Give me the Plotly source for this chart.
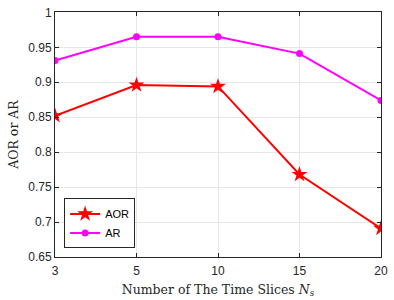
import plotly.graph_objects as go

categories = ["3", "5", "10", "15", "20"]
aor = [0.852, 0.896, 0.894, 0.768, 0.691]
ar = [0.931, 0.965, 0.965, 0.941, 0.874]
y_ticks = [0.65, 0.7, 0.75, 0.8, 0.85, 0.9, 0.95, 1.0]
y_tick_labels = ["0.65", "0.7", "0.75", "0.8", "0.85", "0.9", "0.95", "1"]

fig = go.Figure()
fig.add_trace(go.Scatter(x=categories, y=aor, name="AOR", mode="lines+markers",
                         line=dict(color="#ff0000", width=2),
                         marker=dict(symbol="star", size=12, color="#ff0000")))
fig.add_trace(go.Scatter(x=categories, y=ar, name="AR", mode="lines+markers",
                         line=dict(color="#ff00ff", width=2),
                         marker=dict(symbol="circle", size=7, color="#ff00ff")))

axis_common = dict(showline=True, linecolor="#262626", linewidth=1, mirror="ticks",
                   ticks="inside", ticklen=4, tickcolor="#262626",
                   showgrid=True, gridcolor="#e6e6e6", gridwidth=1,
                   zeroline=False,
                   tickfont=dict(family="Liberation Sans, Arial", size=12, color="#262626"))

fig.update_layout(
    width=394, height=300,
    margin=dict(l=55, r=8, t=6, b=42),
    plot_bgcolor="white", paper_bgcolor="white",
    xaxis=dict(type="category", range=[0, 4], ticklabelstandoff=3,
               title=dict(text="Number of The Time Slices <i>N</i><sub><i>s</i></sub>",
                          font=dict(family="DejaVu Serif", size=12.5, color="#262626"),
                          standoff=7),
               **axis_common),
    yaxis=dict(range=[0.65, 1.0005], tickvals=y_ticks, ticktext=y_tick_labels,
               title=dict(text="AOR or AR",
                          font=dict(family="DejaVu Serif", size=12.5, color="#262626"),
                          standoff=6),
               **axis_common),
    legend=dict(x=0.028, y=0.035, xanchor="left", yanchor="bottom",
                bgcolor="white", bordercolor="#262626", borderwidth=1,
                font=dict(family="Liberation Sans, Arial", size=11, color="#000"),
                tracegroupgap=0, itemwidth=30),
    showlegend=True,
)

fig.write_html("out.html", config={"displayModeBar": False},
               post_script="document.body.style.margin='0';document.body.style.overflow='hidden';")
